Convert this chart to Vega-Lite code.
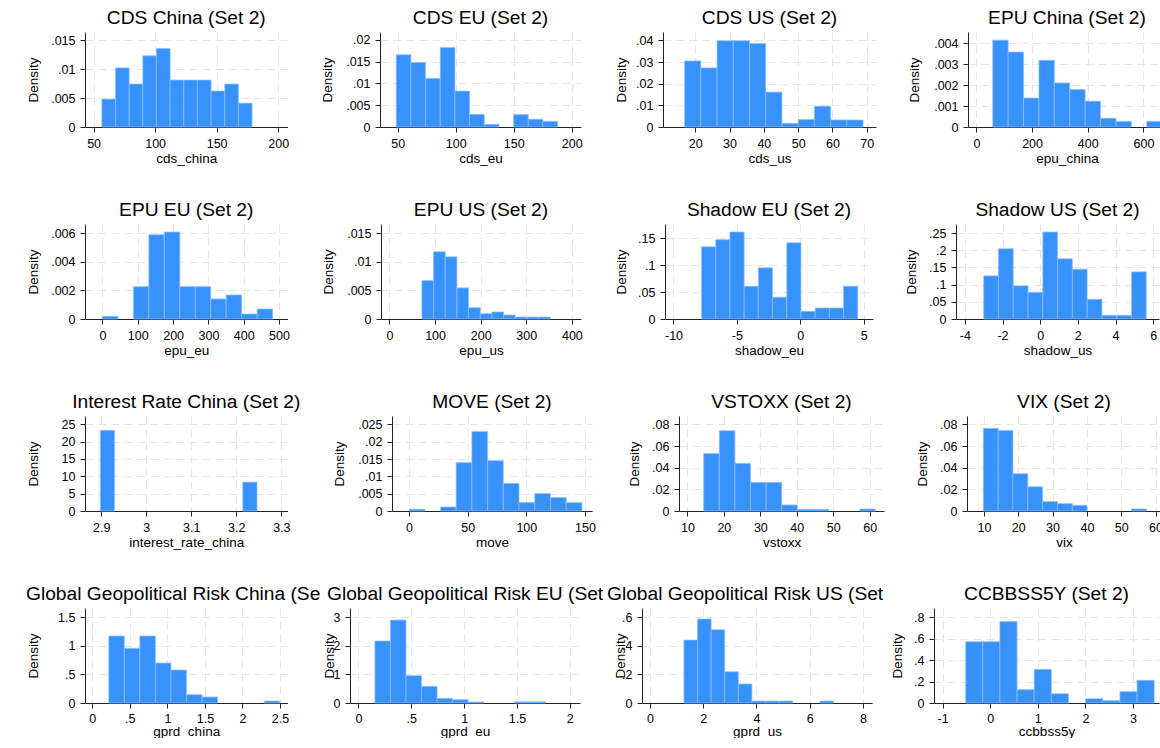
{
  "$schema": "https://vega.github.io/schema/vega-lite/v6.json",
  "background": "white",
  "padding": {"left": 26, "top": 8, "right": 0, "bottom": 0},
  "config": {
    "font": "Liberation Sans",
    "view": {"stroke": null},
    "title": {"fontSize": 19.2, "fontWeight": "normal", "color": "#000", "offset": 4, "anchor": "middle"},
    "axis": {"labelFontSize": 12.5, "titleFontSize": 13.5, "titleFontWeight": "normal", "labelColor": "#000", "titleColor": "#000", "domainColor": "#222", "tickColor": "#222", "tickSize": 5, "labelPadding": 5, "grid": true, "gridColor": "#e6e6e6", "gridDash": [8, 5], "domainWidth": 1, "tickWidth": 1, "labelFlush": false, "labelOverlap": false},
    "axisX": {"labelPadding": 5, "titlePadding": 2},
    "axisY": {"titlePadding": 11},
    "rect": {"color": "#3792fe", "stroke": "#8fc0ff", "strokeWidth": 0.7}
  },
  "data": {"values": [
    {"v":"cds_china","a":56.7,"b":67.8,"d":0.00483},{"v":"cds_china","a":67.8,"b":78.9,"d":0.01023},{"v":"cds_china","a":78.9,"b":90.0,"d":0.00744},{"v":"cds_china","a":90.0,"b":101.1,"d":0.01233},{"v":"cds_china","a":101.1,"b":112.2,"d":0.0136},{"v":"cds_china","a":112.2,"b":123.3,"d":0.00814},{"v":"cds_china","a":123.3,"b":134.4,"d":0.00814},{"v":"cds_china","a":134.4,"b":145.5,"d":0.00814},{"v":"cds_china","a":145.5,"b":156.6,"d":0.00622},{"v":"cds_china","a":156.6,"b":167.7,"d":0.00744},{"v":"cds_china","a":167.7,"b":178.8,"d":0.00413},
    {"v":"cds_eu","a":48.7,"b":61.35,"d":0.01654},{"v":"cds_eu","a":61.35,"b":74.0,"d":0.01477},{"v":"cds_eu","a":74.0,"b":86.65,"d":0.01115},{"v":"cds_eu","a":86.65,"b":99.3,"d":0.01823},{"v":"cds_eu","a":99.3,"b":111.95,"d":0.00823},{"v":"cds_eu","a":111.95,"b":124.6,"d":0.00292},{"v":"cds_eu","a":124.6,"b":137.25,"d":0.00062},{"v":"cds_eu","a":149.9,"b":162.55,"d":0.00285},{"v":"cds_eu","a":162.55,"b":175.2,"d":0.00177},{"v":"cds_eu","a":175.2,"b":187.85,"d":0.00131},
    {"v":"cds_us","a":16.9,"b":21.63,"d":0.03054},{"v":"cds_us","a":21.63,"b":26.36,"d":0.02729},{"v":"cds_us","a":26.36,"b":31.09,"d":0.03984},{"v":"cds_us","a":31.09,"b":35.82,"d":0.03984},{"v":"cds_us","a":35.82,"b":40.55,"d":0.0386},{"v":"cds_us","a":40.55,"b":45.28,"d":0.01612},{"v":"cds_us","a":45.28,"b":50.01,"d":0.0017},{"v":"cds_us","a":50.01,"b":54.74,"d":0.00341},{"v":"cds_us","a":54.74,"b":59.47,"d":0.00961},{"v":"cds_us","a":59.47,"b":64.2,"d":0.00326},{"v":"cds_us","a":64.2,"b":68.93,"d":0.00326},
    {"v":"epu_china","a":58.9,"b":114.2,"d":0.00414},{"v":"epu_china","a":114.2,"b":169.5,"d":0.00357},{"v":"epu_china","a":169.5,"b":224.8,"d":0.00138},{"v":"epu_china","a":224.8,"b":280.1,"d":0.00318},{"v":"epu_china","a":280.1,"b":335.4,"d":0.0021},{"v":"epu_china","a":335.4,"b":390.7,"d":0.00179},{"v":"epu_china","a":390.7,"b":446.0,"d":0.00123},{"v":"epu_china","a":446.0,"b":501.3,"d":0.00042},{"v":"epu_china","a":501.3,"b":556.6,"d":0.00027},{"v":"epu_china","a":611.9,"b":667.2,"d":0.00027},
    {"v":"epu_eu","a":0,"b":43.8,"d":0.00019},{"v":"epu_eu","a":87.6,"b":131.4,"d":0.00226},{"v":"epu_eu","a":131.4,"b":175.2,"d":0.00588},{"v":"epu_eu","a":175.2,"b":219.0,"d":0.00607},{"v":"epu_eu","a":219.0,"b":262.8,"d":0.00226},{"v":"epu_eu","a":262.8,"b":306.6,"d":0.00226},{"v":"epu_eu","a":306.6,"b":350.4,"d":0.0014},{"v":"epu_eu","a":350.4,"b":394.2,"d":0.00168},{"v":"epu_eu","a":394.2,"b":438.0,"d":0.00035},{"v":"epu_eu","a":438.0,"b":481.8,"d":0.0007},
    {"v":"epu_us","a":71.1,"b":96.7,"d":0.00671},{"v":"epu_us","a":96.7,"b":122.3,"d":0.01173},{"v":"epu_us","a":122.3,"b":147.9,"d":0.01085},{"v":"epu_us","a":147.9,"b":173.5,"d":0.00543},{"v":"epu_us","a":173.5,"b":199.1,"d":0.00198},{"v":"epu_us","a":199.1,"b":224.7,"d":0.00093},{"v":"epu_us","a":224.7,"b":250.3,"d":0.00123},{"v":"epu_us","a":250.3,"b":275.9,"d":0.0007},{"v":"epu_us","a":275.9,"b":301.5,"d":0.00035},{"v":"epu_us","a":301.5,"b":327.1,"d":0.00035},{"v":"epu_us","a":327.1,"b":352.7,"d":0.00035},
    {"v":"shadow_eu","a":-7.79,"b":-6.67,"d":0.1345},{"v":"shadow_eu","a":-6.67,"b":-5.55,"d":0.1476},{"v":"shadow_eu","a":-5.55,"b":-4.43,"d":0.1619},{"v":"shadow_eu","a":-4.43,"b":-3.31,"d":0.061},{"v":"shadow_eu","a":-3.31,"b":-2.19,"d":0.0953},{"v":"shadow_eu","a":-2.19,"b":-1.07,"d":0.0405},{"v":"shadow_eu","a":-1.07,"b":0.05,"d":0.142},{"v":"shadow_eu","a":0.05,"b":1.17,"d":0.0143},{"v":"shadow_eu","a":1.17,"b":2.29,"d":0.0205},{"v":"shadow_eu","a":2.29,"b":3.41,"d":0.0205},{"v":"shadow_eu","a":3.41,"b":4.53,"d":0.061},
    {"v":"shadow_us","a":-3.0,"b":-2.215,"d":0.1255},{"v":"shadow_us","a":-2.215,"b":-1.43,"d":0.2043},{"v":"shadow_us","a":-1.43,"b":-0.645,"d":0.0963},{"v":"shadow_us","a":-0.645,"b":0.14,"d":0.0778},{"v":"shadow_us","a":0.14,"b":0.925,"d":0.2529},{"v":"shadow_us","a":0.925,"b":1.71,"d":0.1751},{"v":"shadow_us","a":1.71,"b":2.495,"d":0.1449},{"v":"shadow_us","a":2.495,"b":3.28,"d":0.0574},{"v":"shadow_us","a":3.28,"b":4.065,"d":0.0107},{"v":"shadow_us","a":4.065,"b":4.85,"d":0.0107},{"v":"shadow_us","a":4.85,"b":5.635,"d":0.1372},
    {"v":"interest_rate_china","a":2.898,"b":2.9296,"d":23.26},{"v":"interest_rate_china","a":3.2144,"b":3.246,"d":8.33},
    {"v":"move","a":0,"b":13.4,"d":0.00048},{"v":"move","a":26.8,"b":40.2,"d":0.00116},{"v":"move","a":40.2,"b":53.6,"d":0.01395},{"v":"move","a":53.6,"b":67.0,"d":0.02297},{"v":"move","a":67.0,"b":80.4,"d":0.01453},{"v":"move","a":80.4,"b":93.8,"d":0.00795},{"v":"move","a":93.8,"b":107.2,"d":0.00242},{"v":"move","a":107.2,"b":120.6,"d":0.00504},{"v":"move","a":120.6,"b":134.0,"d":0.00388},{"v":"move","a":134.0,"b":147.4,"d":0.00242},
    {"v":"vstoxx","a":14.47,"b":18.75,"d":0.053},{"v":"vstoxx","a":18.75,"b":23.03,"d":0.0741},{"v":"vstoxx","a":23.03,"b":27.31,"d":0.044},{"v":"vstoxx","a":27.31,"b":31.59,"d":0.0264},{"v":"vstoxx","a":31.59,"b":35.87,"d":0.0264},{"v":"vstoxx","a":35.87,"b":40.15,"d":0.0056},{"v":"vstoxx","a":40.15,"b":44.43,"d":0.00155},{"v":"vstoxx","a":44.43,"b":48.71,"d":0.00155},{"v":"vstoxx","a":57.27,"b":61.55,"d":0.00186},
    {"v":"vix","a":9.82,"b":14.14,"d":0.0763},{"v":"vix","a":14.14,"b":18.46,"d":0.0744},{"v":"vix","a":18.46,"b":22.78,"d":0.0344},{"v":"vix","a":22.78,"b":27.1,"d":0.0223},{"v":"vix","a":27.1,"b":31.42,"d":0.0087},{"v":"vix","a":31.42,"b":35.74,"d":0.0068},{"v":"vix","a":35.74,"b":40.06,"d":0.0053},{"v":"vix","a":53.02,"b":57.34,"d":0.0019},
    {"v":"gprd_china","a":0.22,"b":0.427,"d":1.173},{"v":"gprd_china","a":0.427,"b":0.634,"d":0.957},{"v":"gprd_china","a":0.634,"b":0.841,"d":1.173},{"v":"gprd_china","a":0.841,"b":1.048,"d":0.7},{"v":"gprd_china","a":1.048,"b":1.255,"d":0.578},{"v":"gprd_china","a":1.255,"b":1.462,"d":0.146},{"v":"gprd_china","a":1.462,"b":1.669,"d":0.105},{"v":"gprd_china","a":2.29,"b":2.497,"d":0.035},
    {"v":"gprd_eu","a":0.156,"b":0.303,"d":2.17},{"v":"gprd_eu","a":0.303,"b":0.45,"d":2.905},{"v":"gprd_eu","a":0.45,"b":0.597,"d":0.957},{"v":"gprd_eu","a":0.597,"b":0.744,"d":0.583},{"v":"gprd_eu","a":0.744,"b":0.891,"d":0.163},{"v":"gprd_eu","a":0.891,"b":1.038,"d":0.117},{"v":"gprd_eu","a":1.038,"b":1.185,"d":0.035},{"v":"gprd_eu","a":1.479,"b":1.626,"d":0.04},{"v":"gprd_eu","a":1.626,"b":1.773,"d":0.04},
    {"v":"gprd_us","a":1.275,"b":1.786,"d":0.441},{"v":"gprd_us","a":1.786,"b":2.297,"d":0.588},{"v":"gprd_us","a":2.297,"b":2.808,"d":0.513},{"v":"gprd_us","a":2.808,"b":3.319,"d":0.219},{"v":"gprd_us","a":3.319,"b":3.83,"d":0.133},{"v":"gprd_us","a":3.83,"b":4.341,"d":0.014},{"v":"gprd_us","a":4.341,"b":4.852,"d":0.014},{"v":"gprd_us","a":4.852,"b":5.363,"d":0.014},{"v":"gprd_us","a":6.385,"b":6.896,"d":0.014},
    {"v":"ccbbss5y","a":-0.516,"b":-0.156,"d":0.573},{"v":"ccbbss5y","a":-0.156,"b":0.204,"d":0.573},{"v":"ccbbss5y","a":0.204,"b":0.564,"d":0.76},{"v":"ccbbss5y","a":0.564,"b":0.924,"d":0.125},{"v":"ccbbss5y","a":0.924,"b":1.284,"d":0.314},{"v":"ccbbss5y","a":1.284,"b":1.644,"d":0.087},{"v":"ccbbss5y","a":2.004,"b":2.364,"d":0.04},{"v":"ccbbss5y","a":2.364,"b":2.724,"d":0.022},{"v":"ccbbss5y","a":2.724,"b":3.084,"d":0.106},{"v":"ccbbss5y","a":3.084,"b":3.444,"d":0.212}
  ]},
  "bounds": "full",
  "spacing": 35,
  "vconcat": [
    {"bounds": "full", "spacing": 31, "hconcat": [
      {"width": 202.5, "height": 95, "title": "CDS China (Set 2)", "transform": [{"filter": "datum.v == 'cds_china'"}], "mark": "rect",
       "encoding": {"x": {"field": "a", "type": "quantitative", "scale": {"domain": [43, 207.6], "nice": false, "zero": false}, "axis": {"values": [50,100,150,200], "title": "cds_china", "labelExpr": "indexof(toString(datum.value),'0.')==0 ? substring(toString(datum.value),1) : toString(datum.value)"}},
        "x2": {"field": "b"},
        "y": {"field": "d", "type": "quantitative", "scale": {"domain": [0, 0.01645], "nice": false}, "axis": {"values": [0,0.005,0.01,0.015], "title": "Density", "minExtent": 34, "maxExtent": 34, "labelExpr": "indexof(toString(datum.value),'0.')==0 ? substring(toString(datum.value),1) : toString(datum.value)"}},
        "y2": {"datum": 0}}},
      {"width": 201, "height": 95, "title": "CDS EU (Set 2)", "transform": [{"filter": "datum.v == 'cds_eu'"}], "mark": "rect",
       "encoding": {"x": {"field": "a", "type": "quantitative", "scale": {"domain": [34.7, 208], "nice": false, "zero": false}, "axis": {"values": [50,100,150,200], "title": "cds_eu", "labelExpr": "indexof(toString(datum.value),'0.')==0 ? substring(toString(datum.value),1) : toString(datum.value)"}},
        "x2": {"field": "b"},
        "y": {"field": "d", "type": "quantitative", "scale": {"domain": [0, 0.02177], "nice": false}, "axis": {"values": [0,0.005,0.01,0.015,0.02], "title": "Density", "minExtent": 34.5, "maxExtent": 34.5, "labelExpr": "indexof(toString(datum.value),'0.')==0 ? substring(toString(datum.value),1) : toString(datum.value)"}},
        "y2": {"datum": 0}}},
      {"width": 213, "height": 95, "title": "CDS US (Set 2)", "transform": [{"filter": "datum.v == 'cds_us'"}], "mark": "rect",
       "encoding": {"x": {"field": "a", "type": "quantitative", "scale": {"domain": [10.6, 72.7], "nice": false, "zero": false}, "axis": {"values": [20,30,40,50,60,70], "title": "cds_us", "labelExpr": "indexof(toString(datum.value),'0.')==0 ? substring(toString(datum.value),1) : toString(datum.value)"}},
        "x2": {"field": "b"},
        "y": {"field": "d", "type": "quantitative", "scale": {"domain": [0, 0.04388], "nice": false}, "axis": {"values": [0,0.01,0.02,0.03,0.04], "title": "Density", "minExtent": 23.5, "maxExtent": 23.5, "labelExpr": "indexof(toString(datum.value),'0.')==0 ? substring(toString(datum.value),1) : toString(datum.value)"}},
        "y2": {"datum": 0}}},
      {"width": 198, "height": 95, "title": "EPU China (Set 2)", "transform": [{"filter": "datum.v == 'epu_china'"}], "mark": "rect",
       "encoding": {"x": {"field": "a", "type": "quantitative", "scale": {"domain": [-30, 681], "nice": false, "zero": false}, "axis": {"values": [0,200,400,600], "title": "epu_china", "labelExpr": "indexof(toString(datum.value),'0.')==0 ? substring(toString(datum.value),1) : toString(datum.value)"}},
        "x2": {"field": "b"},
        "y": {"field": "d", "type": "quantitative", "scale": {"domain": [0, 0.004528], "nice": false}, "axis": {"values": [0,0.001,0.002,0.003,0.004], "title": "Density", "minExtent": 35.5, "maxExtent": 35.5, "labelExpr": "indexof(toString(datum.value),'0.')==0 ? substring(toString(datum.value),1) : toString(datum.value)"}},
        "y2": {"datum": 0}}}
    ]},
    {"bounds": "full", "spacing": 31, "hconcat": [
      {"width": 202.5, "height": 95, "title": "EPU EU (Set 2)", "transform": [{"filter": "datum.v == 'epu_eu'"}], "mark": "rect",
       "encoding": {"x": {"field": "a", "type": "quantitative", "scale": {"domain": [-49.5, 524], "nice": false, "zero": false}, "axis": {"values": [0,100,200,300,400,500], "title": "epu_eu", "labelExpr": "indexof(toString(datum.value),'0.')==0 ? substring(toString(datum.value),1) : toString(datum.value)"}},
        "x2": {"field": "b"},
        "y": {"field": "d", "type": "quantitative", "scale": {"domain": [0, 0.00663], "nice": false}, "axis": {"values": [0,0.002,0.004,0.006], "title": "Density", "minExtent": 34, "maxExtent": 34, "labelExpr": "indexof(toString(datum.value),'0.')==0 ? substring(toString(datum.value),1) : toString(datum.value)"}},
        "y2": {"datum": 0}}},
      {"width": 200, "height": 95, "title": "EPU US (Set 2)", "transform": [{"filter": "datum.v == 'epu_us'"}], "mark": "rect",
       "encoding": {"x": {"field": "a", "type": "quantitative", "scale": {"domain": [-18.6, 420], "nice": false, "zero": false}, "axis": {"values": [0,100,200,300,400], "title": "epu_us", "labelExpr": "indexof(toString(datum.value),'0.')==0 ? substring(toString(datum.value),1) : toString(datum.value)"}},
        "x2": {"field": "b"},
        "y": {"field": "d", "type": "quantitative", "scale": {"domain": [0, 0.01658], "nice": false}, "axis": {"values": [0,0.005,0.01,0.015], "title": "Density", "minExtent": 34.5, "maxExtent": 34.5, "labelExpr": "indexof(toString(datum.value),'0.')==0 ? substring(toString(datum.value),1) : toString(datum.value)"}},
        "y2": {"datum": 0}}},
      {"width": 208, "height": 95, "title": "Shadow EU (Set 2)", "transform": [{"filter": "datum.v == 'shadow_eu'"}], "mark": "rect",
       "encoding": {"x": {"field": "a", "type": "quantitative", "scale": {"domain": [-10.67, 5.73], "nice": false, "zero": false}, "axis": {"values": [-10,-5,0,5], "title": "shadow_eu", "labelExpr": "indexof(toString(datum.value),'0.')==0 ? substring(toString(datum.value),1) : toString(datum.value)"}},
        "x2": {"field": "b"},
        "y": {"field": "d", "type": "quantitative", "scale": {"domain": [0, 0.1768], "nice": false}, "axis": {"values": [0,0.05,0.1,0.15], "title": "Density", "minExtent": 26, "maxExtent": 26, "labelExpr": "indexof(toString(datum.value),'0.')==0 ? substring(toString(datum.value),1) : toString(datum.value)"}},
        "y2": {"datum": 0}}},
      {"width": 203, "height": 95, "title": "Shadow US (Set 2)", "transform": [{"filter": "datum.v == 'shadow_us'"}], "mark": "rect",
       "encoding": {"x": {"field": "a", "type": "quantitative", "scale": {"domain": [-4.47, 6.31], "nice": false, "zero": false}, "axis": {"values": [-4,-2,0,2,4,6], "title": "shadow_us", "labelExpr": "indexof(toString(datum.value),'0.')==0 ? substring(toString(datum.value),1) : toString(datum.value)"}},
        "x2": {"field": "b"},
        "y": {"field": "d", "type": "quantitative", "scale": {"domain": [0, 0.2763], "nice": false}, "axis": {"values": [0,0.05,0.1,0.15,0.2,0.25], "title": "Density", "minExtent": 26.5, "maxExtent": 26.5, "labelExpr": "indexof(toString(datum.value),'0.')==0 ? substring(toString(datum.value),1) : toString(datum.value)"}},
        "y2": {"datum": 0}}}
    ]},
    {"bounds": "full", "spacing": 31, "hconcat": [
      {"width": 202.5, "height": 95, "title": "Interest Rate China (Set 2)", "transform": [{"filter": "datum.v == 'interest_rate_china'"}], "mark": "rect",
       "encoding": {"x": {"field": "a", "type": "quantitative", "scale": {"domain": [2.864, 3.3137], "nice": false, "zero": false}, "axis": {"values": [2.9,3,3.1,3.2,3.3], "title": "interest_rate_china", "labelExpr": "indexof(toString(datum.value),'0.')==0 ? substring(toString(datum.value),1) : toString(datum.value)"}},
        "x2": {"field": "b"},
        "y": {"field": "d", "type": "quantitative", "scale": {"domain": [0, 27.4], "nice": false}, "axis": {"values": [0,5,10,15,20,25], "title": "Density", "minExtent": 34, "maxExtent": 34, "labelExpr": "indexof(toString(datum.value),'0.')==0 ? substring(toString(datum.value),1) : toString(datum.value)"}},
        "y2": {"datum": 0}}},
      {"width": 200, "height": 95, "title": "MOVE (Set 2)", "transform": [{"filter": "datum.v == 'move'"}], "mark": "rect",
       "encoding": {"x": {"field": "a", "type": "quantitative", "scale": {"domain": [-14.5, 156], "nice": false, "zero": false}, "axis": {"values": [0,50,100,150], "title": "move", "labelExpr": "indexof(toString(datum.value),'0.')==0 ? substring(toString(datum.value),1) : toString(datum.value)"}},
        "x2": {"field": "b"},
        "y": {"field": "d", "type": "quantitative", "scale": {"domain": [0, 0.02742], "nice": false}, "axis": {"values": [0,0.005,0.01,0.015,0.02,0.025], "title": "Density", "minExtent": 34.5, "maxExtent": 34.5, "labelExpr": "indexof(toString(datum.value),'0.')==0 ? substring(toString(datum.value),1) : toString(datum.value)"}},
        "y2": {"datum": 0}}},
      {"width": 205, "height": 95, "title": "VSTOXX (Set 2)", "transform": [{"filter": "datum.v == 'vstoxx'"}], "mark": "rect",
       "encoding": {"x": {"field": "a", "type": "quantitative", "scale": {"domain": [7.7, 63.9], "nice": false, "zero": false}, "axis": {"values": [10,20,30,40,50,60], "title": "vstoxx", "labelExpr": "indexof(toString(datum.value),'0.')==0 ? substring(toString(datum.value),1) : toString(datum.value)"}},
        "x2": {"field": "b"},
        "y": {"field": "d", "type": "quantitative", "scale": {"domain": [0, 0.0877], "nice": false}, "axis": {"values": [0,0.02,0.04,0.06,0.08], "title": "Density", "minExtent": 26.5, "maxExtent": 26.5, "labelExpr": "indexof(toString(datum.value),'0.')==0 ? substring(toString(datum.value),1) : toString(datum.value)"}},
        "y2": {"datum": 0}}},
      {"width": 194, "height": 95, "title": "VIX (Set 2)", "transform": [{"filter": "datum.v == 'vix'"}], "mark": "rect",
       "encoding": {"x": {"field": "a", "type": "quantitative", "scale": {"domain": [5.06, 61.6], "nice": false, "zero": false}, "axis": {"values": [10,20,30,40,50,60], "title": "vix", "labelExpr": "indexof(toString(datum.value),'0.')==0 ? substring(toString(datum.value),1) : toString(datum.value)"}},
        "x2": {"field": "b"},
        "y": {"field": "d", "type": "quantitative", "scale": {"domain": [0, 0.0877], "nice": false}, "axis": {"values": [0,0.02,0.04,0.06,0.08], "title": "Density", "minExtent": 26.5, "maxExtent": 26.5, "labelExpr": "indexof(toString(datum.value),'0.')==0 ? substring(toString(datum.value),1) : toString(datum.value)"}},
        "y2": {"datum": 0}}}
    ]},
    {"bounds": "flush", "spacing": 62, "hconcat": [
      {"width": 202.5, "height": 95, "title": {"text": "Global Geopolitical Risk China (Se", "anchor": "start", "frame": "bounds"}, "transform": [{"filter": "datum.v == 'gprd_china'"}], "mark": "rect",
       "encoding": {"x": {"field": "a", "type": "quantitative", "scale": {"domain": [-0.097, 2.6], "nice": false, "zero": false}, "axis": {"values": [0,0.5,1,1.5,2,2.5], "title": "gprd_china", "labelPadding": 4, "titlePadding": 0, "labelExpr": "indexof(toString(datum.value),'0.')==0 ? substring(toString(datum.value),1) : toString(datum.value)"}},
        "x2": {"field": "b"},
        "y": {"field": "d", "type": "quantitative", "scale": {"domain": [0, 1.663], "nice": false}, "axis": {"values": [0,0.5,1,1.5], "title": "Density", "minExtent": 34, "maxExtent": 34, "labelExpr": "indexof(toString(datum.value),'0.')==0 ? substring(toString(datum.value),1) : toString(datum.value)"}},
        "y2": {"datum": 0}}},
      {"width": 230, "height": 95, "title": {"text": "Global Geopolitical Risk EU (Set", "anchor": "start", "frame": "group", "dx": -23}, "transform": [{"filter": "datum.v == 'gprd_eu'"}], "mark": "rect",
       "encoding": {"x": {"field": "a", "type": "quantitative", "scale": {"domain": [-0.08, 2.097], "nice": false, "zero": false}, "axis": {"values": [0,0.5,1,1.5,2], "title": "gprd_eu", "labelPadding": 4, "titlePadding": 0, "labelExpr": "indexof(toString(datum.value),'0.')==0 ? substring(toString(datum.value),1) : toString(datum.value)"}},
        "x2": {"field": "b"},
        "y": {"field": "d", "type": "quantitative", "scale": {"domain": [0, 3.327], "nice": false}, "axis": {"values": [0,1,2,3], "title": "Density", "minExtent": 15, "maxExtent": 15, "titlePadding": -1, "labelExpr": "indexof(toString(datum.value),'0.')==0 ? substring(toString(datum.value),1) : toString(datum.value)"}},
        "y2": {"datum": 0}}},
      {"width": 230, "height": 95, "title": {"text": "Global Geopolitical Risk US (Set", "anchor": "start", "frame": "group", "dx": -35}, "transform": [{"filter": "datum.v == 'gprd_us'"}], "mark": "rect",
       "encoding": {"x": {"field": "a", "type": "quantitative", "scale": {"domain": [-0.3, 8.34], "nice": false, "zero": false}, "axis": {"values": [0,2,4,6,8], "title": "gprd_us", "labelPadding": 4, "titlePadding": 0, "labelExpr": "indexof(toString(datum.value),'0.')==0 ? substring(toString(datum.value),1) : toString(datum.value)"}},
        "x2": {"field": "b"},
        "y": {"field": "d", "type": "quantitative", "scale": {"domain": [0, 0.665], "nice": false}, "axis": {"values": [0,0.2,0.4,0.6], "title": "Density", "minExtent": 15, "maxExtent": 15, "titlePadding": 0, "labelExpr": "indexof(toString(datum.value),'0.')==0 ? substring(toString(datum.value),1) : toString(datum.value)"}},
        "y2": {"datum": 0}}},
      {"width": 225, "height": 95, "title": "CCBBSS5Y (Set 2)", "transform": [{"filter": "datum.v == 'ccbbss5y'"}], "mark": "rect",
       "encoding": {"x": {"field": "a", "type": "quantitative", "scale": {"domain": [-1.18, 3.545], "nice": false, "zero": false}, "axis": {"values": [-1,0,1,2,3], "title": "ccbbss5y", "labelPadding": 4, "titlePadding": 0, "labelExpr": "indexof(toString(datum.value),'0.')==0 ? substring(toString(datum.value),1) : toString(datum.value)"}},
        "x2": {"field": "b"},
        "y": {"field": "d", "type": "quantitative", "scale": {"domain": [0, 0.887], "nice": false}, "axis": {"values": [0,0.2,0.4,0.6,0.8], "title": "Density", "minExtent": 20, "maxExtent": 20, "titlePadding": 9.5, "labelExpr": "indexof(toString(datum.value),'0.')==0 ? substring(toString(datum.value),1) : toString(datum.value)"}},
        "y2": {"datum": 0}}}
    ]}
  ]
}
